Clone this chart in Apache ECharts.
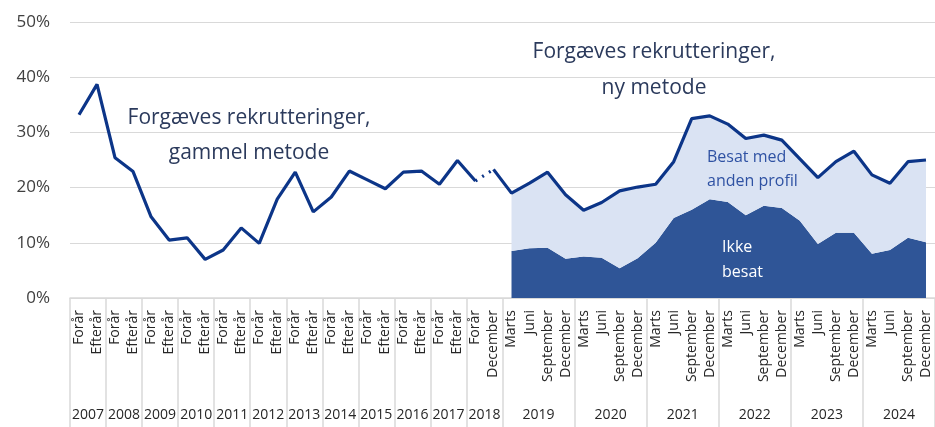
<!DOCTYPE html>
<html>
<head>
<meta charset="utf-8">
<script src="https://cdn.jsdelivr.net/npm/echarts@6/dist/echarts.min.js"></script>
<style>
  html, body { margin: 0; padding: 0; background: #fff; }
  #chart { width: 935px; height: 427px; }
</style>
</head>
<body>
<div id="chart"></div>
<script>
// x categories (first label row)
const periods = [
    'Forår', 'Efterår', 'Forår', 'Efterår', 'Forår', 'Efterår', 'Forår', 'Efterår',
    'Forår', 'Efterår', 'Forår', 'Efterår', 'Forår', 'Efterår', 'Forår', 'Efterår',
    'Forår', 'Efterår', 'Forår', 'Efterår', 'Forår', 'Efterår', 'Forår', 'December',
    'Marts', 'Juni', 'September', 'December', 'Marts', 'Juni', 'September', 'December',
    'Marts', 'Juni', 'September', 'December', 'Marts', 'Juni', 'September', 'December',
    'Marts', 'Juni', 'September', 'December', 'Marts', 'Juni', 'September', 'December'
];
// second label row: year and how many periods it covers
const years = ['2007', '2008', '2009', '2010', '2011', '2012', '2013', '2014', '2015',
    '2016', '2017', '2018', '2019', '2020', '2021', '2022', '2023', '2024'];
const yearSpans = [2, 2, 2, 2, 2, 2, 2, 2, 2, 2, 2, 2, 4, 4, 4, 4, 4, 4];

// Forgæves rekrutteringer, gammel metode (2007 Forår .. 2018 Forår), pct
const oldMethod = [33.2, 38.7, 25.4, 22.9, 14.7, 10.5, 10.9, 7.0, 8.7, 12.7, 9.9, 17.9,
    22.8, 15.6, 18.3, 23.0, 21.4, 19.8, 22.8, 23.0, 20.6, 24.9, 21.2];
// Forgæves rekrutteringer, ny metode (2018 December .. 2024 December), pct
const newMethod = [23.3,
    19.0, 20.8, 22.8, 18.7,
    15.9, 17.3, 19.4, 20.1,
    20.6, 24.7, 32.5, 33.0,
    31.5, 28.9, 29.5, 28.6,
    25.2, 21.8, 24.7, 26.6,
    22.3, 20.8, 24.7, 25.0];
// Ikke besat (2019 Marts .. 2024 December), pct
const ikkeBesat = [8.5, 9.0, 9.1, 7.1,
    7.5, 7.3, 5.4, 7.2,
    10.0, 14.5, 16.0, 17.9,
    17.4, 15.0, 16.7, 16.3,
    14.0, 9.8, 11.8, 11.8,
    8.0, 8.7, 10.9, 10.1];

const n = periods.length;
const oldStart = 0;
const newStart = oldMethod.length;        // December 2018
const areaStart = newStart + 1;           // Marts 2019

const pad = (arr, start) => {
    const out = new Array(n).fill('-');
    arr.forEach((v, i) => { out[start + i] = v; });
    return out;
};

const oldLine = pad(oldMethod, oldStart);
const newLine = pad(newMethod, newStart);
const dotted = new Array(n).fill('-');
dotted[newStart - 1] = oldMethod[oldMethod.length - 1];
dotted[newStart] = newMethod[0];
const ikkeData = pad(ikkeBesat, areaStart);
const andenData = pad(ikkeBesat.map((v, i) => +(newMethod[i + 1] - v).toFixed(1)), areaStart);

// year row on a half-step axis: 2 slots per period, boundaryGap false
const yearAxisData = new Array(n * 2 + 1).fill('');
const yearBounds = new Set([0]);
const yearCenters = new Set();
let pos = 0;
years.forEach((y, k) => {
    const c = pos * 2 + yearSpans[k];
    yearAxisData[c] = y;
    yearCenters.add(c);
    pos += yearSpans[k];
    yearBounds.add(pos * 2);
});

const textColor = '#262626';
const gridColor = '#d9d9d9';
const lineColor = '#0c3588';
const font = '"Open Sans", sans-serif';

const chart = echarts.init(document.getElementById('chart'));
chart.setOption({
    animation: false,
    grid: {left: 70, right: 0, top: 22, bottom: 129},
    xAxis: [
        {
            type: 'category',
            data: periods,
            boundaryGap: true,
            axisLine: {lineStyle: {color: gridColor, width: 1.5}},
            axisTick: {show: false},
            axisLabel: {
                interval: 0, rotate: 90, margin: 12,
                fontSize: 14, fontFamily: font, color: textColor
            }
        },
        {
            type: 'category',
            data: yearAxisData,
            position: 'bottom',
            boundaryGap: false,
            axisLine: {show: false},
            axisTick: {
                show: true, length: 129,
                interval: (i) => yearBounds.has(i),
                lineStyle: {color: gridColor, width: 1.5}
            },
            axisLabel: {
                interval: (i) => yearCenters.has(i),
                margin: 110, fontSize: 14, fontFamily: font, color: textColor
            }
        }
    ],
    yAxis: {
        type: 'value',
        min: 0, max: 50, interval: 10,
        axisLine: {show: false},
        axisTick: {show: false},
        splitLine: {lineStyle: {color: gridColor, width: 1.2}},
        axisLabel: {
            formatter: '{value}%', margin: 20,
            fontSize: 17, fontFamily: font, color: '#404040'
        }
    },
    series: [
        {
            name: 'Ikke besat', type: 'line', stack: 'ny', data: ikkeData,
            symbol: 'none', lineStyle: {width: 0},
            areaStyle: {color: '#2f5597', opacity: 1}, z: 1
        },
        {
            name: 'Besat med anden profil', type: 'line', stack: 'ny', data: andenData,
            symbol: 'none', lineStyle: {width: 0},
            areaStyle: {color: '#dae3f3', opacity: 1}, z: 1
        },
        {
            name: 'Gammel metode', type: 'line', data: oldLine,
            symbol: 'none', lineStyle: {color: lineColor, width: 3.2}, z: 3
        },
        {
            name: 'Overgang', type: 'line', data: dotted,
            symbol: 'none', lineStyle: {color: lineColor, width: 3.2, type: [2, 6]}, z: 3
        },
        {
            name: 'Ny metode', type: 'line', data: newLine,
            symbol: 'none', lineStyle: {color: lineColor, width: 3.2}, z: 3
        }
    ],
    graphic: [
        {
            type: 'text', x: 249, y: 136, z: 10,
            style: {
                text: 'Forgæves rekrutteringer,\ngammel metode',
                align: 'center', verticalAlign: 'middle', lineHeight: 35,
                font: '21px ' + font, fill: '#2b3a5c'
            }
        },
        {
            type: 'text', x: 654, y: 70, z: 10,
            style: {
                text: 'Forgæves rekrutteringer,\nny metode',
                align: 'center', verticalAlign: 'middle', lineHeight: 36,
                font: '21px ' + font, fill: '#2b3a5c'
            }
        },
        {
            type: 'text', x: 707, y: 169, z: 10,
            style: {
                text: 'Besat med\nanden profil',
                align: 'left', verticalAlign: 'middle', lineHeight: 24,
                font: '16px ' + font, fill: '#2f52a3'
            }
        },
        {
            type: 'text', x: 722, y: 260, z: 10,
            style: {
                text: 'Ikke\nbesat',
                align: 'left', verticalAlign: 'middle', lineHeight: 25,
                font: '16px ' + font, fill: '#ffffff'
            }
        }
    ]
});
</script>
</body>
</html>
